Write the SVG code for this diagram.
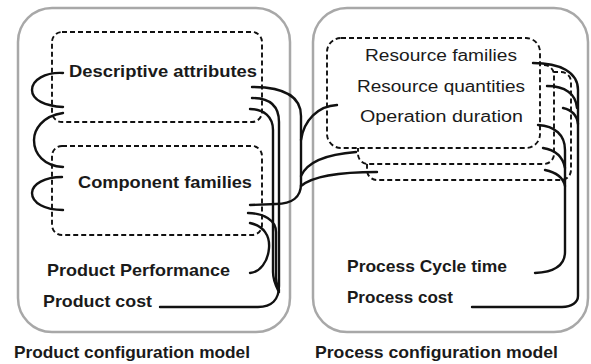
<svg xmlns="http://www.w3.org/2000/svg" width="591" height="364" viewBox="0 0 591 364">
<style>
.panel{fill:#fff;stroke:#a8a8a8;stroke-width:2.5}
.box{fill:#fff;stroke:#111;stroke-width:1.9;stroke-dasharray:5 3}
.c{fill:none;stroke:#111;stroke-width:2.4;stroke-linecap:round}
.b{font-family:"Liberation Sans",Arial,sans-serif;font-weight:bold;font-size:17px;fill:#1a1a1a}
.r{font-family:"Liberation Sans",Arial,sans-serif;font-size:16px;fill:#1a1a1a}
</style>
<rect width="591" height="364" fill="#fff"/>
<g id="product-model">
<rect class="panel" x="18" y="8" width="272" height="324" rx="34"/>
<text class="b" x="14" y="358" textLength="236" lengthAdjust="spacingAndGlyphs">Product configuration model</text>
</g>
<g id="process-model">
<rect class="panel" x="313" y="8" width="275" height="324" rx="34"/>
<text class="b" x="315" y="358" textLength="243" lengthAdjust="spacingAndGlyphs">Process configuration model</text>
</g>
<g id="descriptive-attributes">
<rect class="box" x="52" y="32" width="210" height="90" rx="10"/>
<text class="b" x="69" y="77" textLength="188" lengthAdjust="spacingAndGlyphs">Descriptive attributes</text>
</g>
<g id="component-families">
<rect class="box" x="52" y="146" width="210" height="89" rx="10"/>
<text class="b" x="78" y="188" textLength="174" lengthAdjust="spacingAndGlyphs">Component families</text>
</g>
<g id="product-performance">
<text class="b" x="47" y="276" textLength="183" lengthAdjust="spacingAndGlyphs">Product Performance</text>
</g>
<g id="product-cost">
<text class="b" x="43" y="307" textLength="109" lengthAdjust="spacingAndGlyphs">Product cost</text>
</g>
<g id="resource-stack">
<rect class="box" x="367" y="72" width="204" height="108" rx="10"/>
<rect class="box" x="358" y="65" width="196" height="99" rx="10"/>
<rect class="box" x="327" y="38" width="213" height="110" rx="14"/>
</g>
<g id="resource-families">
<text class="r" x="365" y="61" textLength="152" lengthAdjust="spacingAndGlyphs">Resource families</text>
</g>
<g id="resource-quantities">
<text class="r" x="357" y="92" textLength="168" lengthAdjust="spacingAndGlyphs">Resource quantities</text>
</g>
<g id="operation-duration">
<text class="r" x="360" y="122" textLength="163" lengthAdjust="spacingAndGlyphs">Operation duration</text>
</g>
<g id="process-cycle-time">
<text class="b" x="347" y="272" textLength="160" lengthAdjust="spacingAndGlyphs">Process Cycle time</text>
</g>
<g id="process-cost">
<text class="b" x="347" y="303" textLength="106" lengthAdjust="spacingAndGlyphs">Process cost</text>
</g>
<g id="connectors">
<path class="c" d="M63,73 C45,72 32,80 32,90 C32,100 45,106 63,107"/>
<path class="c" d="M63,113 C42,116 34,130 34,140 C34,154 44,166 63,167"/>
<path class="c" d="M62,177 C45,177 32,184 32,193 C32,203 45,210 63,210"/>
<path class="c" d="M252,87 C284,87 301,96 301,116 L301,184 C301,197 292,204 276,204 L250,205"/>
<path class="c" d="M301,140 C304,120 318,106 337,105"/>
<path class="c" d="M301,176 C308,160 330,154 356,152"/>
<path class="c" d="M301,186 C314,175 345,172 377,172"/>
<path class="c" d="M252,98 C270,98 279,106 279,122 L279,286 C279,299 272,307 258,307 L160,307"/>
<path class="c" d="M250,109 C264,109 273,117 273,130 L273,272 C273,281 276,286 279,292"/>
<path class="c" d="M248,213 C263,213 276,220 276,232 L276,278 C276,283 278,286 279,290"/>
<path class="c" d="M250,223 C264,226 270,236 269,248 C268,262 260,272 250,273"/>
<path class="c" d="M533,63 C560,63 578,72 578,90 L578,296 C578,302 572,307 562,307 L472,307"/>
<path class="c" d="M547,86 C565,86 576,94 577,108"/>
<path class="c" d="M563,108 C572,110 577,115 578,124"/>
<path class="c" d="M538,125 C555,126 565,135 565,150 L565,252 C565,265 555,272 535,273"/>
<path class="c" d="M543,148 C555,150 563,157 565,168"/>
<path class="c" d="M545,170 C555,172 563,177 565,186"/>
</g>
</svg>
